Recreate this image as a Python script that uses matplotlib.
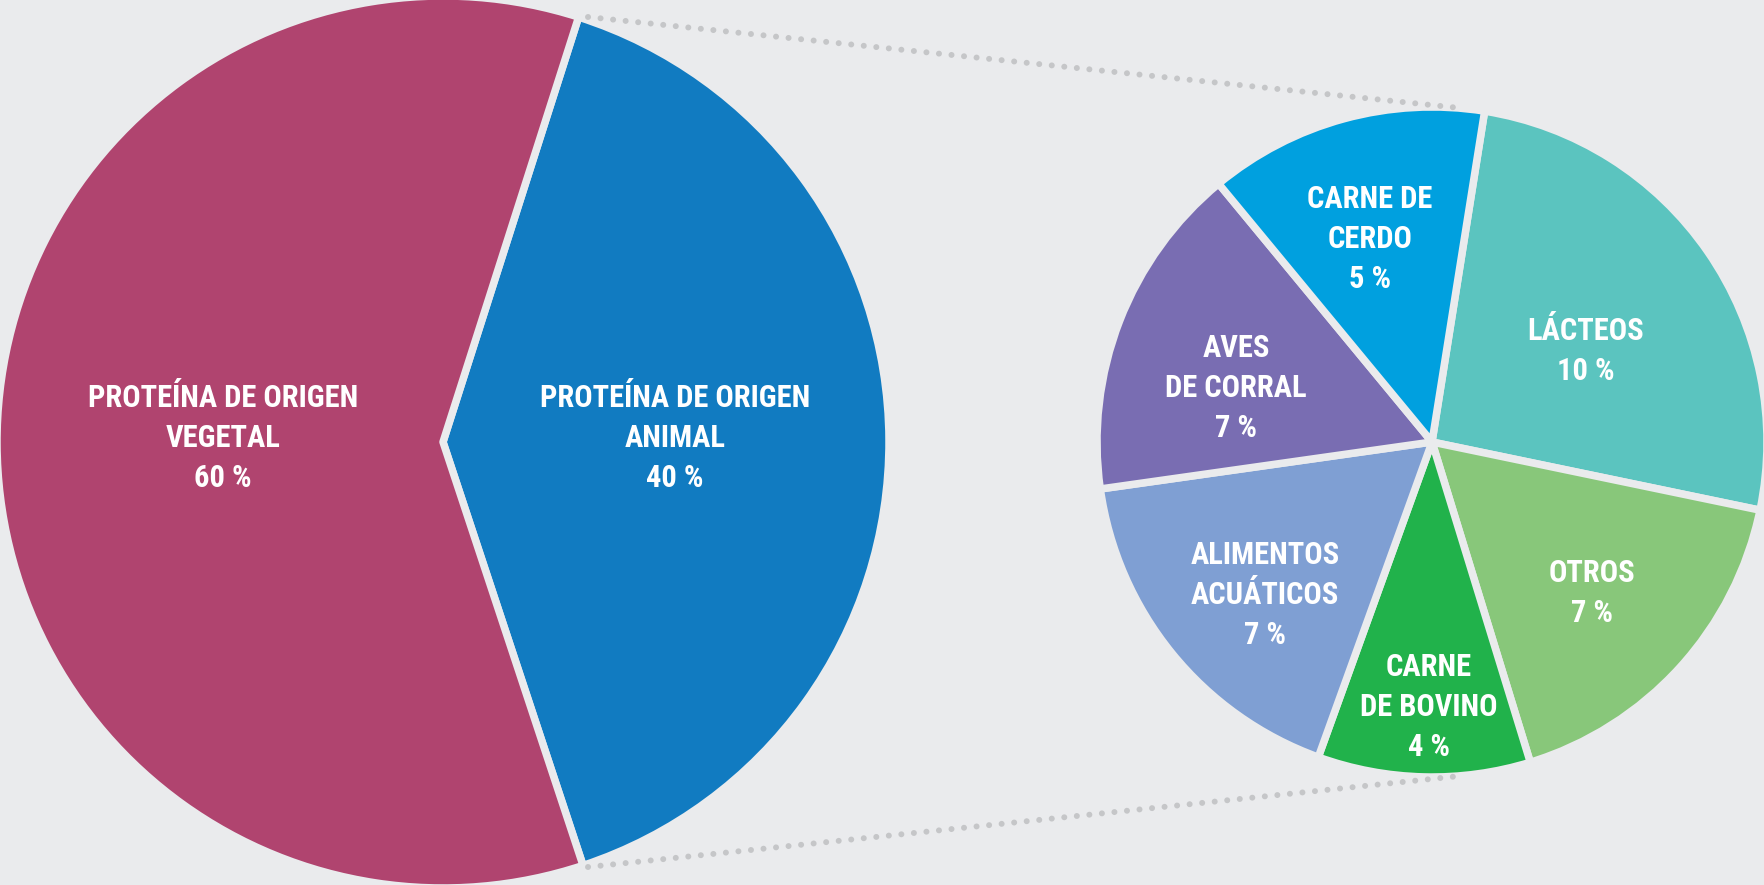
import matplotlib
matplotlib.use("Agg")
import matplotlib.pyplot as plt
from matplotlib import font_manager as fm

# ---------------- data ----------------
main_labels = ["PROTEÍNA DE ORIGEN\nANIMAL", "PROTEÍNA DE ORIGEN\nVEGETAL"]
main_values = [40, 60]
main_pct = ["40 %", "60 %"]
main_colors = ["#117BC1", "#B0446F"]

sub_labels = ["LÁCTEOS", "OTROS", "CARNE\nDE BOVINO", "ALIMENTOS\nACUÁTICOS",
              "AVES\nDE CORRAL", "CARNE DE\nCERDO"]
sub_values = [10.3, 6.8, 4.1, 6.9, 6.5, 5.4]
sub_pct = ["10 %", "7 %", "4 %", "7 %", "7 %", "5 %"]
sub_colors = ["#5BC4BF", "#88C77A", "#21B24B", "#7F9FD3", "#796DB2", "#00A0DF"]

# ---------------- layout (pixels, image coords y down) ----------------
W, H = 1764, 885
BG = "#EAEBED"
main_center = (443, 442)
main_r = 446
sub_center = (1432, 442)
sub_r = 335
main_label_pos = [(675, 436), (223, 436)]
sub_label_pos = [(1586, 349), (1592, 591), (1429, 705), (1265, 593), (1236, 386), (1370, 237)]
LINE_SP = 40
CAP_H = 22.5

# ---------------- font ----------------
names = {f.name for f in fm.fontManager.ttflist}
font_kw = None
for cand in ["Liberation Sans Narrow", "Roboto Condensed", "Open Sans Condensed"]:
    if cand in names:
        font_kw = dict(family=cand, weight="bold")
        break
if font_kw is None:
    cond = [f for f in fm.fontManager.ttflist
            if f.name == "DejaVu Sans" and "ondensed" in (f.fname or "") and "Bold" in f.fname]
    if cond:
        font_kw = dict(fname=cond[0].fname)
    else:
        font_kw = dict(family="DejaVu Sans", weight="bold")

if "fname" in font_kw:
    fp = fm.FontProperties(fname=font_kw["fname"], size=22)
else:
    fp = fm.FontProperties(family=font_kw["family"], weight=font_kw["weight"], size=22)

# ---------------- figure ----------------
fig = plt.figure(figsize=(W / 100, H / 100), dpi=100, facecolor=BG)
ax = fig.add_axes([0, 0, 1, 1])
ax.set_facecolor(BG)

edge_lw = 5.4
wp = dict(edgecolor=BG, linewidth=edge_lw, joinstyle="round")

ax.pie(main_values, colors=main_colors, startangle=72.3, counterclock=False,
       center=(main_center[0], H - main_center[1]), radius=main_r,
       wedgeprops=wp, frame=True)
ax.pie(sub_values, colors=sub_colors, startangle=80.96, counterclock=False,
       center=(sub_center[0], H - sub_center[1]), radius=sub_r,
       wedgeprops=wp, frame=True)

# dotted connectors
dot_kw = dict(color="#C5C6C8", lw=4.3, linestyle=(0, (0.01, 2.1)),
              dash_capstyle="round", zorder=3)
ax.plot([588, 1460], [H - 17, H - 108], **dot_kw)
ax.plot([588, 1460], [H - 867, H - 776], **dot_kw)


def draw_label(x, yc, lines):
    n = len(lines)
    first = yc - (n - 1) * LINE_SP / 2
    for i, ln in enumerate(lines):
        ycap = first + i * LINE_SP
        ax.text(x, H - (ycap + CAP_H / 2), ln, ha="center", va="baseline",
                color="white", fontproperties=fp, zorder=5)


for lab, pct, pos in zip(main_labels, main_pct, main_label_pos):
    draw_label(pos[0], pos[1], lab.split("\n") + [pct])
for lab, pct, pos in zip(sub_labels, sub_pct, sub_label_pos):
    draw_label(pos[0], pos[1], lab.split("\n") + [pct])

ax.set_xlim(0, W)
ax.set_ylim(0, H)
ax.set_aspect("auto")
ax.axis("off")

fig.savefig("out.png", dpi=100, facecolor=BG)
